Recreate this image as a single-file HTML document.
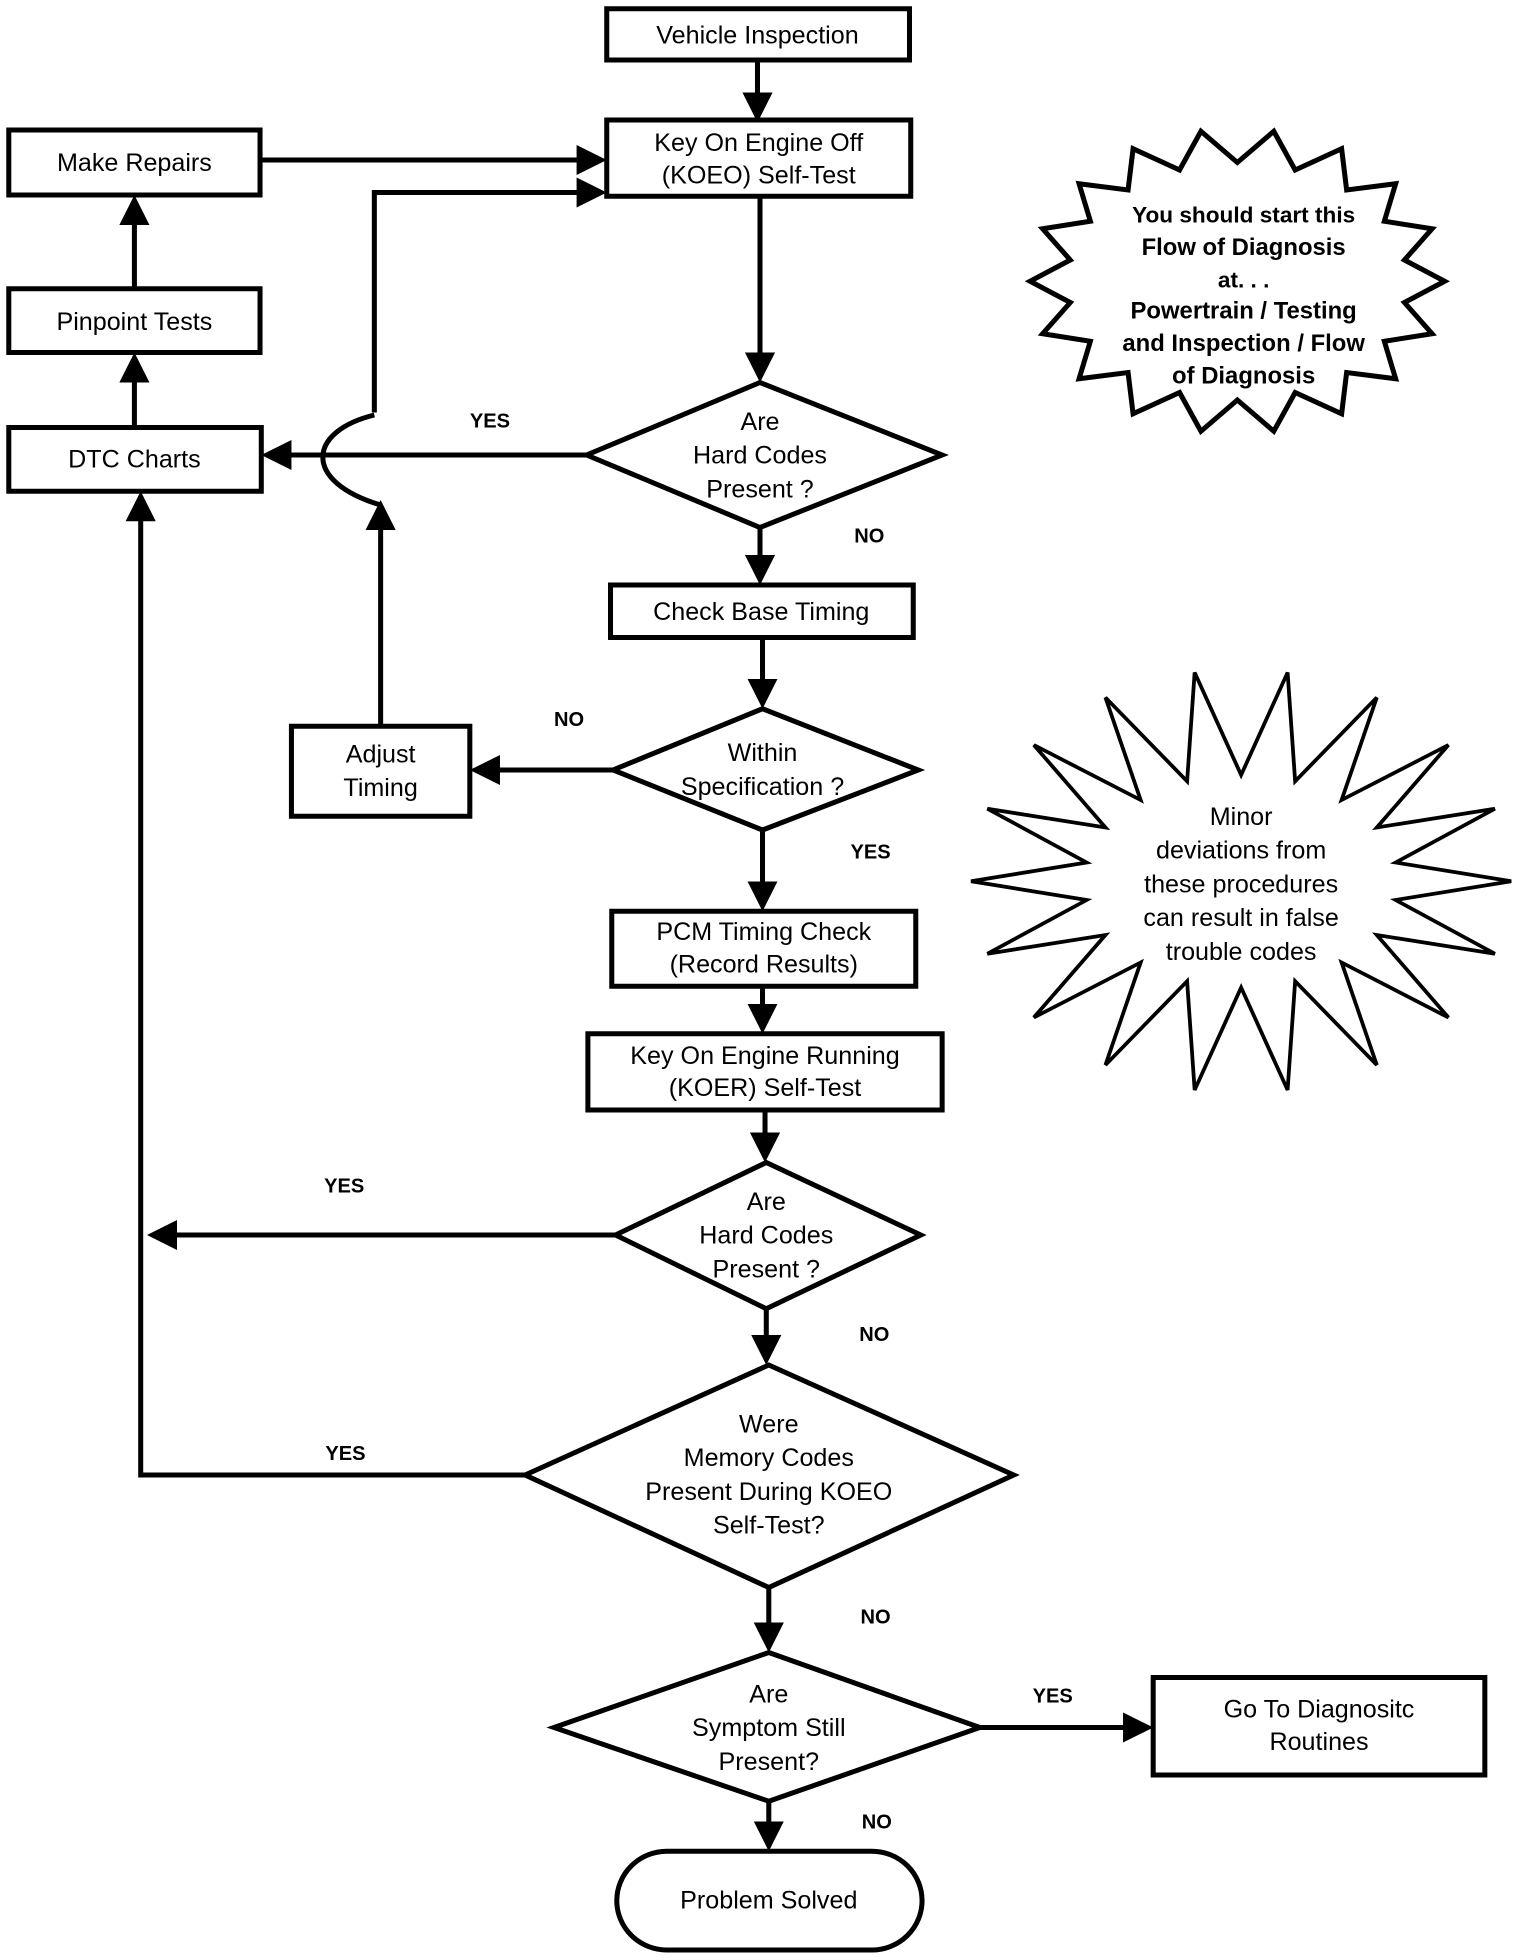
<!DOCTYPE html>
<html><head><meta charset="utf-8"><style>
html,body{margin:0;padding:0;background:#fff}
svg{display:block}
text{font-family:"Liberation Sans",sans-serif;font-size:20px;fill:#000;text-anchor:middle}
.l{font-weight:bold;font-size:16px}
.b{font-weight:bold}
</style></head><body>
<svg width="1520" height="1960" viewBox="0 0 1210 1568" preserveAspectRatio="none" xmlns="http://www.w3.org/2000/svg">
<defs><marker id="a" markerWidth="6" markerHeight="6" refX="5" refY="3" orient="auto" markerUnits="strokeWidth"><path d="M0,0 L6,3 L0,6 z" fill="#000"/></marker></defs>
<g fill="#fff" stroke="#000" stroke-width="4">
<rect x="483" y="7" width="241" height="41"/>
<rect x="483" y="96" width="242" height="61"/>
<rect x="7" y="104" width="200" height="52"/>
<rect x="7" y="231" width="200" height="51"/>
<rect x="7" y="342" width="201" height="51"/>
<polygon points="605,306 750,364 605,422 467,364"/>
<rect x="486" y="468" width="241" height="42"/>
<polygon points="607,567 731,616 607,664 488,616"/>
<rect x="232" y="581" width="142" height="72"/>
<rect x="487" y="729" width="242" height="60"/>
<rect x="468" y="827" width="282" height="61"/>
<polygon points="610,930 733,988 610,1047 490,988"/>
<polygon points="612,1092 807,1180 612,1270 418,1180"/>
<polygon points="612,1322 780,1382 612,1441 441,1382"/>
<rect x="918" y="1342" width="264" height="78"/>
<rect x="491" y="1481" width="243" height="79" rx="40"/>
<polygon points="1150,225 1118,242 1140,267 1102,273 1111,303 1072,298 1068,331 1031,314 1014,345 985,320 956,345 939,314 902,331 898,298 859,303 868,273 830,267 852,242 820,225 852,208 830,183 868,177 859,147 898,152 902,119 939,136 956,105 985,130 1014,105 1031,136 1068,119 1072,152 1111,147 1102,177 1140,183 1118,208"/>
<polygon stroke-width="3" points="1203,705 1111,720 1190,763 1096,748 1153,814 1068,770 1096,852 1031,785 1025,872 988,790 951,872 945,785 880,852 908,770 823,814 880,748 786,763 865,720 773,705 865,690 786,647 880,662 823,596 908,640 880,558 945,625 951,538 988,620 1025,538 1031,625 1096,558 1068,640 1153,596 1096,662 1190,647 1111,690"/>
</g>
<g fill="none" stroke="#000" stroke-width="4" marker-end="url(#a)">
<path d="M603,48 V94"/>
<path d="M207,128 H479"/>
<path d="M298,330 V154 H479"/>
<path d="M467,364 H212"/>
<path d="M605,157 V302"/>
<path d="M605,422 V464"/>
<path d="M107,342 V286"/>
<path d="M107,231 V160"/>
<path d="M607,510 V563"/>
<path d="M488,616 H378"/>
<path d="M303,581 V404"/>
<path d="M607,664 V725"/>
<path d="M607,789 V823"/>
<path d="M609,888 V926"/>
<path d="M490,988 H121"/>
<path d="M610,1047 V1088"/>
<path d="M418,1180 H112 V397"/>
<path d="M612,1270 V1318"/>
<path d="M780,1382 H914"/>
<path d="M612,1441 V1477"/>
</g>
<path d="M303,404 C240,385 245,345 298,332" fill="none" stroke="#000" stroke-width="4"/>
<text x="603" y="35">Vehicle Inspection</text>
<text x="604" y="121">Key On Engine Off</text>
<text x="604" y="147">(KOEO) Self-Test</text>
<text x="107" y="137">Make Repairs</text>
<text x="107" y="264">Pinpoint Tests</text>
<text x="107" y="374">DTC Charts</text>
<text x="605" y="344">Are</text>
<text x="605" y="371">Hard Codes</text>
<text x="605" y="398">Present ?</text>
<text x="606" y="496">Check Base Timing</text>
<text x="607" y="609">Within</text>
<text x="607" y="636">Specification ?</text>
<text x="303" y="610">Adjust</text>
<text x="303" y="637">Timing</text>
<text x="608" y="752">PCM Timing Check</text>
<text x="608" y="778">(Record Results)</text>
<text x="609" y="851">Key On Engine Running</text>
<text x="609" y="877">(KOER) Self-Test</text>
<text x="610" y="968">Are</text>
<text x="610" y="995">Hard Codes</text>
<text x="610" y="1022">Present ?</text>
<text x="612" y="1146">Were</text>
<text x="612" y="1173">Memory Codes</text>
<text x="612" y="1200">Present During KOEO</text>
<text x="612" y="1227">Self-Test?</text>
<text x="612" y="1362">Are</text>
<text x="612" y="1389">Symptom Still</text>
<text x="612" y="1416">Present?</text>
<text x="1050" y="1374">Go To Diagnositc</text>
<text x="1050" y="1400">Routines</text>
<text x="612" y="1527">Problem Solved</text>
<text class="b" x="990" y="178" style="font-size:18px">You should start this</text>
<text class="b" x="990" y="204" style="font-size:19px">Flow of Diagnosis</text>
<text class="b" x="990" y="230" style="font-size:18px">at. . .</text>
<text class="b" x="990" y="255" style="font-size:19px">Powertrain / Testing</text>
<text class="b" x="990" y="281" style="font-size:19px">and Inspection / Flow</text>
<text class="b" x="990" y="307" style="font-size:19px">of Diagnosis</text>
<text x="988" y="660">Minor</text>
<text x="988" y="687">deviations from</text>
<text x="988" y="714">these procedures</text>
<text x="988" y="741">can result in false</text>
<text x="988" y="768">trouble codes</text>
<text class="l" x="390" y="342">YES</text>
<text class="l" x="692" y="434">NO</text>
<text class="l" x="453" y="581">NO</text>
<text class="l" x="693" y="687">YES</text>
<text class="l" x="274" y="954">YES</text>
<text class="l" x="696" y="1073">NO</text>
<text class="l" x="275" y="1168">YES</text>
<text class="l" x="697" y="1299">NO</text>
<text class="l" x="838" y="1362">YES</text>
<text class="l" x="698" y="1463">NO</text>
</svg>
</body></html>
